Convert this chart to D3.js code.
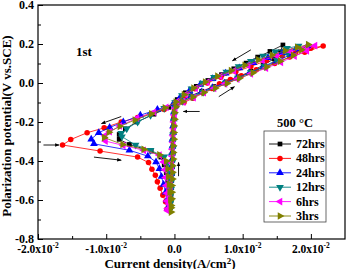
<!DOCTYPE html>
<html><head><meta charset="utf-8">
<script src="https://cdn.jsdelivr.net/npm/d3@7"></script>
<style>
body{margin:0;background:#fff}
svg{display:block}
text{font-family:"Liberation Serif","Times New Roman",serif;font-weight:bold;fill:#000}
</style>
</head><body>
<svg id="c" width="347" height="269"></svg>
<script>
// ---------- data ----------
const seriesNames = ["72hrs","48hrs","24hrs","12hrs","6hrs","3hrs"];
const xTickValues = [-0.02,-0.01,0,0.01,0.02];
const xTickMantissa = ["-2.0x10","-1.0x10","0.0","1.0x10","2.0x10"];
const xTickExp = ["-2","-2","","-2","-2"];
const xMinorTicks = [-0.015,-0.005,0.005,0.015];
const yTickValues = [-0.8,-0.6,-0.4,-0.2,0.0,0.2,0.4];
const yTickLabels = ["-0.8","-0.6","-0.4","-0.2","0.0","0.2","0.4"];
const yMinorTicks = [-0.7,-0.5,-0.3,-0.1,0.1,0.3];

// [current density (A/cm2), potential (V)] in scan order
const s72 = [[-0.0006,-0.640],[-0.0005,-0.605],[-0.0005,-0.570],[-0.0004,-0.535],[-0.0004,-0.500],[-0.0003,-0.465],[-0.0003,-0.430],[-0.0003,-0.395],[-0.0002,-0.360],[-0.0002,-0.325],[-0.0002,-0.290],[-0.0001,-0.255],[-0.0001,-0.220],[-0.0001,-0.185],[0.0000,-0.150],[0.0002,-0.120],
 [0.0010,-0.092],[0.0024,-0.066],[0.0040,-0.042],[0.0058,-0.018],[0.0076,0.006],[0.0094,0.032],[0.0112,0.060],[0.0130,0.090],[0.0146,0.125],[0.0155,0.160],[0.0159,0.195],
 [0.0140,0.162],[0.0122,0.133],[0.0105,0.102],[0.0087,0.073],[0.0069,0.043],[0.0049,0.013],[0.0032,-0.017],[0.0016,-0.050],[0.0004,-0.085],[-0.0008,-0.125],[-0.0030,-0.160],[-0.0055,-0.200],[-0.0072,-0.235],[-0.0081,-0.264],[-0.0081,-0.289],
 [-0.0066,-0.315],[-0.0034,-0.349],[-0.0020,-0.380],[-0.0015,-0.420],[-0.0012,-0.460],[-0.0010,-0.500],[-0.0009,-0.540],[-0.0008,-0.580],[-0.0007,-0.620]];
const s48 = [[-0.0008,-0.648],[-0.0007,-0.612],[-0.0006,-0.576],[-0.0005,-0.540],[-0.0005,-0.504],[-0.0004,-0.468],[-0.0004,-0.432],[-0.0003,-0.396],[-0.0003,-0.360],[-0.0002,-0.324],[-0.0002,-0.288],[-0.0002,-0.252],[-0.0001,-0.216],[-0.0001,-0.180],[0.0000,-0.144],[0.0003,-0.115],
 [0.0014,-0.100],[0.0027,-0.078],[0.0042,-0.051],[0.0055,-0.028],[0.0066,-0.004],[0.0082,0.018],[0.0098,0.037],[0.0120,0.068],[0.0147,0.100],[0.0169,0.133],[0.0191,0.158],[0.0218,0.190],
 [0.0200,0.178],[0.0178,0.160],[0.0158,0.140],[0.0135,0.115],[0.0112,0.085],[0.0090,0.058],[0.0068,0.030],[0.0048,0.000],[0.0030,-0.030],[0.0015,-0.065],[0.0003,-0.100],[-0.0015,-0.136],[-0.0034,-0.157],[-0.0054,-0.177],[-0.0078,-0.200],[-0.0103,-0.230],[-0.0128,-0.255],[-0.0152,-0.290],[-0.0164,-0.318],
 [-0.0109,-0.349],[-0.0054,-0.380],[-0.0038,-0.408],[-0.0033,-0.442],[-0.0028,-0.473],[-0.0025,-0.507],[-0.0021,-0.540],[-0.0017,-0.575],[-0.0013,-0.609],[-0.0011,-0.646]];
const s24 = [[-0.0009,-0.640],[-0.0008,-0.605],[-0.0007,-0.570],[-0.0006,-0.535],[-0.0006,-0.500],[-0.0005,-0.465],[-0.0005,-0.430],[-0.0004,-0.395],[-0.0004,-0.360],[-0.0003,-0.325],[-0.0003,-0.290],[-0.0002,-0.255],[-0.0002,-0.220],[-0.0001,-0.185],[-0.0001,-0.150],[0.0001,-0.118],
 [0.0011,-0.090],[0.0025,-0.068],[0.0040,-0.046],[0.0056,-0.024],[0.0073,-0.001],[0.0091,0.024],[0.0110,0.052],[0.0130,0.082],[0.0150,0.112],[0.0170,0.145],[0.0195,0.190],
 [0.0178,0.175],[0.0158,0.155],[0.0137,0.130],[0.0116,0.104],[0.0095,0.077],[0.0075,0.050],[0.0056,0.022],[0.0038,-0.008],[0.0022,-0.040],[0.0008,-0.075],[-0.0002,-0.108],[-0.0025,-0.136],[-0.0050,-0.165],[-0.0075,-0.200],[-0.0095,-0.228],[-0.0111,-0.255],[-0.0122,-0.288],
 [-0.0118,-0.312],[-0.0066,-0.345],[-0.0039,-0.375],[-0.0027,-0.405],[-0.0022,-0.440],[-0.0019,-0.480],[-0.0016,-0.520],[-0.0013,-0.560],[-0.0011,-0.600],[-0.0009,-0.635]];
const s12 = [[-0.0007,-0.650],[-0.0006,-0.615],[-0.0006,-0.580],[-0.0005,-0.545],[-0.0005,-0.510],[-0.0004,-0.475],[-0.0004,-0.440],[-0.0003,-0.405],[-0.0003,-0.370],[-0.0002,-0.335],[-0.0002,-0.300],[-0.0002,-0.265],[-0.0001,-0.230],[-0.0001,-0.195],[0.0000,-0.160],[0.0002,-0.125],
 [0.0012,-0.094],[0.0026,-0.070],[0.0042,-0.047],[0.0058,-0.024],[0.0075,0.000],[0.0093,0.026],[0.0112,0.055],[0.0132,0.086],[0.0150,0.118],[0.0166,0.152],[0.0182,0.190],
 [0.0165,0.178],[0.0148,0.160],[0.0130,0.138],[0.0112,0.112],[0.0094,0.085],[0.0076,0.057],[0.0058,0.029],[0.0041,0.000],[0.0025,-0.030],[0.0011,-0.064],[0.0001,-0.100],[-0.0015,-0.130],[-0.0035,-0.165],[-0.0054,-0.200],[-0.0070,-0.235],[-0.0078,-0.258],[-0.0077,-0.275],
 [-0.0057,-0.318],[-0.0035,-0.345],[-0.0015,-0.378],[-0.0010,-0.410],[-0.0009,-0.450],[-0.0008,-0.490],[-0.0007,-0.530],[-0.0007,-0.570],[-0.0006,-0.610],[-0.0006,-0.645]];
const s6 = [[-0.0010,-0.655],[-0.0008,-0.620],[-0.0007,-0.585],[-0.0006,-0.550],[-0.0006,-0.515],[-0.0005,-0.480],[-0.0004,-0.445],[-0.0004,-0.410],[-0.0003,-0.375],[-0.0003,-0.340],[-0.0002,-0.305],[-0.0002,-0.270],[-0.0001,-0.235],[-0.0001,-0.200],[0.0000,-0.165],[0.0001,-0.130],
 [0.0013,-0.098],[0.0028,-0.075],[0.0043,-0.050],[0.0058,-0.027],[0.0074,-0.004],[0.0092,0.020],[0.0112,0.047],[0.0134,0.076],[0.0156,0.106],[0.0176,0.138],[0.0194,0.165],[0.0206,0.192],
 [0.0190,0.180],[0.0170,0.162],[0.0150,0.140],[0.0129,0.116],[0.0108,0.090],[0.0087,0.062],[0.0067,0.034],[0.0048,0.004],[0.0031,-0.027],[0.0016,-0.060],[0.0004,-0.095],[-0.0012,-0.125],[-0.0030,-0.150],[-0.0055,-0.180],[-0.0080,-0.220],[-0.0095,-0.250],[-0.0102,-0.270],[-0.0101,-0.298],
 [-0.0075,-0.320],[-0.0045,-0.345],[-0.0022,-0.370],[-0.0016,-0.405],[-0.0014,-0.445],[-0.0013,-0.485],[-0.0012,-0.525],[-0.0011,-0.565],[-0.0011,-0.605],[-0.0010,-0.645]];
const s3 = [[-0.0005,-0.662],[-0.0005,-0.628],[-0.0004,-0.594],[-0.0004,-0.560],[-0.0004,-0.526],[-0.0003,-0.492],[-0.0003,-0.458],[-0.0003,-0.424],[-0.0002,-0.390],[-0.0002,-0.356],[-0.0002,-0.322],[-0.0001,-0.288],[-0.0001,-0.254],[-0.0001,-0.220],[0.0000,-0.186],[0.0000,-0.152],[0.0002,-0.122],
 [0.0012,-0.096],[0.0027,-0.072],[0.0043,-0.049],[0.0060,-0.026],[0.0077,-0.002],[0.0095,0.024],[0.0115,0.052],[0.0135,0.082],[0.0155,0.112],[0.0174,0.142],[0.0186,0.170],[0.0196,0.197],
 [0.0180,0.183],[0.0162,0.165],[0.0143,0.143],[0.0123,0.118],[0.0103,0.091],[0.0083,0.063],[0.0063,0.035],[0.0045,0.005],[0.0028,-0.026],[0.0014,-0.060],[0.0002,-0.098],[-0.0014,-0.128],[-0.0034,-0.158],[-0.0058,-0.190],[-0.0080,-0.222],[-0.0096,-0.252],[-0.0103,-0.280],
 [-0.0076,-0.315],[-0.0045,-0.340],[-0.0022,-0.368],[-0.0012,-0.400],[-0.0010,-0.440],[-0.0009,-0.480],[-0.0008,-0.520],[-0.0007,-0.560],[-0.0006,-0.600],[-0.0005,-0.640]];
const seriesData = [s72,s48,s24,s12,s6,s3];

// scan-direction arrows: [from, to] in data units
const arrows = [
  [[0.0112,0.170],[0.0085,0.114]],
  [[0.0065,-0.070],[0.0088,-0.019]],
  [[0.0037,-0.146],[0.0013,-0.146]],
  [[-0.0078,-0.172],[-0.0107,-0.208]],
  [[-0.0192,-0.318],[-0.0169,-0.318]],
  [[-0.0118,-0.380],[-0.0078,-0.396]],
  [[0.0006,-0.478],[0.0006,-0.407]]
];

// ---------- styles ----------
const colors = ["#000000","#ff0000","#0000ff","#008080","#ff00ff","#808000"];
const symbols = [d3.symbolSquare,d3.symbolCircle,d3.symbolTriangle,d3.symbolTriangle,d3.symbolTriangle,d3.symbolTriangle];
const rotations = [0,0,0,180,-90,90];
const sizes = [22,24,26,26,26,26];

const svg = d3.select("#c");
const L=38,T=5,R=345,B=239;
const x = d3.scaleLinear().domain([-0.02,0.025]).range([L,R]);
const y = d3.scaleLinear().domain([-0.8,0.4]).range([B,T]);

svg.append("defs").append("marker").attr("id","ah").attr("viewBox","0 0 10 10")
  .attr("refX",9).attr("refY",5).attr("markerWidth",5).attr("markerHeight",5).attr("orient","auto")
  .append("path").attr("d","M0,1 L10,5 L0,9 Z").attr("fill","#000");

// axes (ticks inward)
svg.append("g").attr("transform",`translate(0,${B})`)
  .call(d3.axisBottom(x).tickValues(xTickValues).tickSizeInner(-5).tickSizeOuter(0).tickFormat(""));
svg.append("g").attr("transform",`translate(0,${B})`)
  .call(d3.axisBottom(x).tickValues(xMinorTicks).tickSizeInner(-3).tickSizeOuter(0).tickFormat(""));
svg.append("g").attr("transform",`translate(${L},0)`)
  .call(d3.axisLeft(y).tickValues(yTickValues).tickSizeInner(-5).tickSizeOuter(0).tickFormat(""));
svg.append("g").attr("transform",`translate(${L},0)`)
  .call(d3.axisLeft(y).tickValues(yMinorTicks).tickSizeInner(-3).tickSizeOuter(0).tickFormat(""));
svg.selectAll(".domain").remove();
svg.selectAll(".tick line").attr("stroke","#000").attr("stroke-width",1);

svg.append("rect").attr("x",L).attr("y",T).attr("width",R-L).attr("height",B-T)
  .attr("fill","none").attr("stroke","#000").attr("stroke-width",1.2);

// x tick labels
xTickValues.forEach((v,i)=>{
  const t = svg.append("text").attr("x",x(v)).attr("y",252.5).attr("text-anchor","middle").attr("font-size",11.5);
  t.append("tspan").text(xTickMantissa[i]);
  if (xTickExp[i]) t.append("tspan").attr("dy",-5).attr("font-size",7.5).text(xTickExp[i]);
});
// y tick labels
yTickValues.forEach((v,i)=>{
  svg.append("text").attr("x",34).attr("y",y(v)+3.8).attr("text-anchor","end").attr("font-size",12).text(yTickLabels[i]);
});

// axis titles
const xt = svg.append("text").attr("x",170).attr("y",267.5).attr("text-anchor","middle").attr("font-size",13);
xt.append("tspan").text("Current density(A/cm");
xt.append("tspan").attr("dy",-4).attr("font-size",9).text("2");
xt.append("tspan").attr("dy",4).text(")");
svg.append("text").attr("transform","translate(11,126) rotate(-90)").attr("text-anchor","middle")
  .attr("font-size",13).text("Polarization potential(V vs.SCE)");

svg.append("text").attr("x",76).attr("y",56).attr("font-size",13).text("1st");
svg.append("text").attr("x",295).attr("y",127).attr("text-anchor","middle").attr("font-size",12.5).text("500 °C");

// series
const line = d3.line().x(d=>x(d[0])).y(d=>y(d[1]));
seriesData.forEach((data,i)=>{
  const g = svg.append("g");
  g.append("path").attr("d",line(data)).attr("fill","none").attr("stroke",colors[i]).attr("stroke-width",0.8);
  const sym = d3.symbol().type(symbols[i]).size(sizes[i]);
  g.selectAll("path.pt").data(data).join("path").attr("class","pt")
    .attr("d",sym).attr("fill",colors[i])
    .attr("transform",d=>`translate(${x(d[0])},${y(d[1])}) rotate(${rotations[i]})`);
});

// arrows
arrows.forEach(a=>{
  svg.append("line").attr("x1",x(a[0][0])).attr("y1",y(a[0][1]))
    .attr("x2",x(a[1][0])).attr("y2",y(a[1][1]))
    .attr("stroke","#000").attr("stroke-width",0.9).attr("marker-end","url(#ah)");
});

// legend
const lg = svg.append("g");
lg.append("rect").attr("x",264).attr("y",131).attr("width",62).attr("height",91)
  .attr("fill","#fff").attr("stroke","#444").attr("stroke-width",0.8);
seriesNames.forEach((n,i)=>{
  const yy = 144 + i*14.4;
  lg.append("line").attr("x1",269).attr("x2",291).attr("y1",yy).attr("y2",yy).attr("stroke",colors[i]).attr("stroke-width",0.9);
  lg.append("path").attr("d",d3.symbol().type(symbols[i]).size(sizes[i])())
    .attr("fill",colors[i]).attr("transform",`translate(280,${yy}) rotate(${rotations[i]})`);
  lg.append("text").attr("x",296).attr("y",yy+4).attr("font-size",12).text(n);
});
</script>
</body></html>
